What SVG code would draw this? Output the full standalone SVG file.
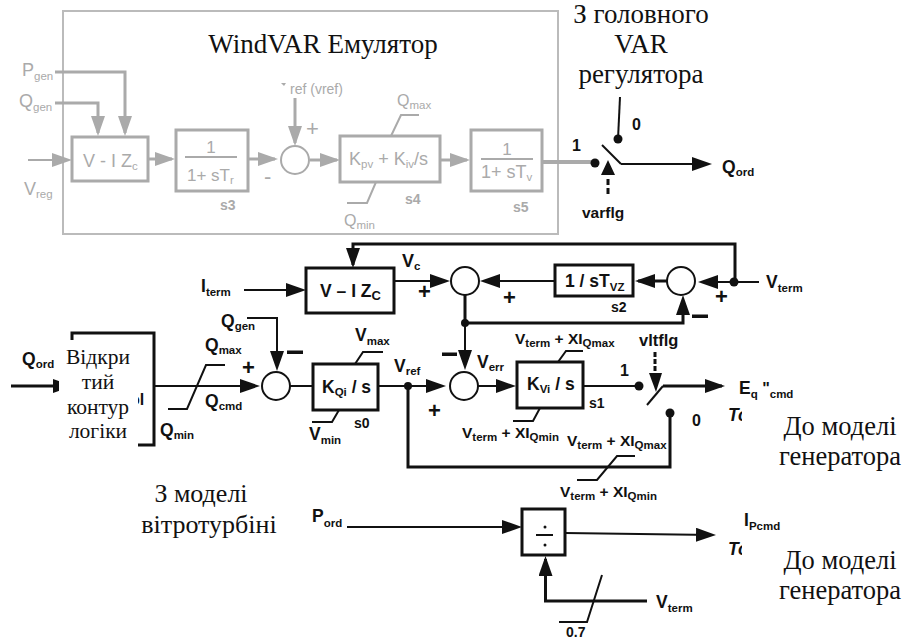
<svg xmlns="http://www.w3.org/2000/svg" width="906" height="640" viewBox="0 0 906 640">
<style>
text{font-family:"Liberation Sans",Arial,sans-serif}
.s{font-family:"Liberation Serif","Times New Roman",serif;fill:#111;text-anchor:middle}
.l{font-size:17.500px;font-weight:bold;fill:#111}
.x{font-size:15.500px;font-weight:bold;fill:#111}
.g{font-size:17px;fill:#aaa}
.n{font-size:14px;font-weight:bold;fill:#111}
.gn{font-size:14px;fill:#aaa;font-weight:bold}
.sub{font-size:11.500px}
.b{fill:#fff;stroke:#111;stroke-width:3}
.gb{fill:#fff;stroke:#aaa;stroke-width:3}
.c{fill:#fff;stroke:#111;stroke-width:2}
.gc{fill:#fff;stroke:#aaa;stroke-width:2}
.w{fill:none;stroke:#111;stroke-width:2}
.w3{fill:none;stroke:#111;stroke-width:3}
.gw{fill:none;stroke:#aaa;stroke-width:2}
.gw3{fill:none;stroke:#aaa;stroke-width:3}
.a{marker-end:url(#ah)}
.ga{marker-end:url(#gh)}
.p{font-size:22px;font-weight:bold;fill:#111}
</style>
<defs>
<marker id="ah" markerUnits="userSpaceOnUse" markerWidth="20" markerHeight="16" refX="17" refY="7" orient="auto"><path d="M0 0L20 7L0 14Z" fill="#111"/></marker>
<marker id="gh" markerUnits="userSpaceOnUse" markerWidth="20" markerHeight="16" refX="17" refY="7" orient="auto"><path d="M0 0L20 7L0 14Z" fill="#aaa"/></marker>
</defs>
<rect width="906" height="640" fill="#fff"/>

<g id="emulator-frame"><rect x="63" y="11" width="495" height="223" fill="none" stroke="#bbb" stroke-width="2"/></g>

<g id="connectors">
<path class="gw3 ga" d="M55 72H125V133"/>
<path class="gw3 ga" d="M55 103H98V133"/>
<path class="gw ga" d="M28 160H69"/>
<path class="gw3 ga" d="M148 159H172"/>
<path class="gw3 ga" d="M248 159H275"/>
<path class="gw3 ga" d="M295 98V143"/>
<path class="gw3 ga" d="M310 160H337"/>
<path class="gw3 ga" d="M440 160H467"/>
<path class="gw" d="M419 115H401L391 136"/>
<path class="gw" d="M347 203H367L376 182"/>
<path d="M542 162H595" fill="none" stroke="#aaa" stroke-width="4"/>

<path class="w" d="M620 97L618 139"/>
<path class="w" d="M602 145L621 164"/>
<path class="w a" d="M621 164H709"/>
<path class="w3" stroke-dasharray="6 3" d="M608 194V176"/>
<path d="M601 175L608 160L615 175Z" fill="#111"/>

<path class="w3 a" d="M735 282V244H353V265"/>
<path class="w a" d="M759 282H701"/>
<path class="w3 a" d="M667 281H638"/>
<path class="w a" d="M555 281H483"/>
<path class="w a" d="M394 281H447"/>
<path class="w a" d="M244 290H303"/>
<path class="w3" d="M465 295V323H683V310"/>
<path class="w a" d="M683 323V298"/>
<path class="w a" d="M465 323V367"/>
<path class="w a" d="M378 386H443"/>
<path class="w a" d="M478 386H513"/>
<path class="w" d="M582 386H639"/>
<path class="w" d="M290 386H313"/>
<path class="w a" d="M155 386H257"/>
<path class="w a" d="M247 318H277V368"/>
<path class="w3 a" d="M11 386H70"/>
<path class="w3" d="M72 340V333H154V445H138"/>
<path class="w" d="M225 365H206L187 409H168"/>
<path class="w" d="M383 352H363L355 364"/>
<path class="w" d="M312 422H332L339 410"/>
<path class="w" d="M583 351H566L558 362"/>
<path class="w" d="M513 421H533L540 408"/>
<path class="w3" d="M408 386V467H670V413"/>
<path class="w" d="M577 480H597L617 456H635"/>
<path class="w" d="M647 405L663 386"/>
<path class="w3 a" d="M663 386H722"/>
<path class="w3" stroke-dasharray="5 2" d="M655 352V372"/>
<path d="M649 373L656 392L662 373Z" fill="#111"/>
<path class="w a" d="M347 527H519"/>
<path class="w a" d="M565 533L713 535"/>
<path class="w3 a" d="M647 601H545.500V559"/>
<path class="w" d="M559 622H587L602 575"/>
<circle cx="595" cy="163" r="4.500" fill="#111"/>
<circle cx="618" cy="139" r="4.500" fill="#111"/>
<circle cx="734" cy="282" r="4.500" fill="#111"/>
<circle cx="465" cy="323" r="4" fill="#111"/>
<circle cx="408" cy="386" r="4" fill="#111"/>
<circle cx="639" cy="386" r="4.500" fill="#111"/>
<circle cx="670" cy="413" r="4.500" fill="#111"/>
</g>

<g id="vizc-gray"><rect class="gb" x="72" y="137" width="76" height="44"/><text class="g" x="83" y="167" style="font-size:18px">V - I Z<tspan class="sub" dy="3">c</tspan></text></g>
<g id="s3"><rect class="gb" x="176" y="130" width="72" height="61"/><path class="gw" d="M185 157H237"/><text class="g" x="211" y="153" text-anchor="middle">1</text><text class="g" x="187" y="181">1+ sT<tspan class="sub" dy="3">r</tspan></text><text class="gn" x="220" y="210">s3</text></g>
<g id="sum-gray"><circle class="gc" cx="295" cy="160" r="14"/></g>
<g id="s4"><rect class="gb" x="340" y="136" width="100" height="46"/><text class="g" x="349" y="165" style="font-size:18px">K<tspan class="sub" dy="3">pv</tspan><tspan dy="-3"> + K</tspan><tspan class="sub" dy="3">iv</tspan><tspan dy="-3">/s</tspan></text><text class="gn" x="405" y="204">s4</text></g>
<g id="s5"><rect class="gb" x="471" y="130" width="71" height="61"/><path class="gw" d="M481 159H533"/><text class="g" x="507" y="155" text-anchor="middle">1</text><text class="g" x="481" y="178" style="font-size:18px">1+ sT<tspan class="sub" dy="3">v</tspan></text><text class="gn" x="513" y="212">s5</text></g>

<g id="vizc"><rect class="b" x="306" y="268" width="88" height="45"/><text class="l" x="320" y="297">V – I Z<tspan dy="3" style="font-size:13px">C</tspan></text></g>
<g id="s2"><rect class="b" x="555" y="265" width="78" height="31"/><text class="l" x="565" y="287">1 / sT<tspan class="sub" dy="4">VZ</tspan></text><text class="n" x="611" y="312">s2</text></g>
<g id="sum-vc"><circle class="c" cx="465" cy="281" r="14"/></g>
<g id="sum-vterm"><circle class="c" cx="681" cy="281" r="14"/></g>
<g id="sum-q"><circle class="c" cx="276" cy="386" r="14"/></g>
<g id="s0"><rect class="b" x="313" y="364" width="65" height="46"/><text class="l" x="322" y="393">K<tspan class="sub" dy="3">Qi</tspan><tspan dy="-3"> / s</tspan></text><text class="n" x="354" y="428">s0</text></g>
<g id="sum-v"><circle class="c" cx="464" cy="386" r="14"/></g>
<g id="s1"><rect class="b" x="517" y="362" width="66" height="46"/><text class="l" x="527" y="390">K<tspan class="sub" dy="3">Vi</tspan><tspan dy="-3"> / s</tspan></text><text class="n" x="589" y="408">s1</text></g>
<g id="divider"><rect class="b" x="522" y="509" width="43" height="46"/><path class="w" d="M536 535H553"/><circle cx="545" cy="527" r="1.500" fill="#111"/><circle cx="545" cy="545" r="1.500" fill="#111"/></g>

<g id="logic">
<text class="l" x="130" y="405" style="font-size:16px">ol</text>
<rect x="59" y="345" width="79" height="100" fill="#fff"/>
<text class="s" x="98" y="364" style="font-size:21.500px">Відкри</text>
<text class="s" x="98" y="389" style="font-size:21.500px">тий</text>
<text class="s" x="98" y="414" style="font-size:21.500px">контур</text>
<text class="s" x="98" y="438" style="font-size:21.500px">логіки</text>
</g>

<g id="labels">
<text class="g" x="22" y="76" style="font-size:18px">P<tspan class="sub" dy="4">gen</tspan></text>
<text class="g" x="19" y="107" style="font-size:18px">Q<tspan class="sub" dy="4">gen</tspan></text>
<text class="g" x="24" y="195" style="font-size:18px">V<tspan class="sub" dy="3">reg</tspan></text>
<path d="M281 83H286L284 86Z" fill="#aaa"/>
<text class="g" x="290" y="94" style="font-size:14px">ref  (vref)</text>
<text class="g" x="306" y="136" style="font-size:22px">+</text>
<text class="g" x="264" y="184" style="font-size:22px">-</text>
<text class="g" x="397" y="106" style="font-size:16px">Q<tspan class="sub" dy="3">max</tspan></text>
<text class="g" x="344" y="226" style="font-size:16px">Q<tspan class="sub" dy="3">min</tspan></text>
<text class="s" x="323" y="53" style="font-size:27px">WindVAR Емулятор</text>
<text class="s" x="641" y="23" style="font-size:27px">З головного</text>
<text class="s" x="641" y="53" style="font-size:27px">VAR</text>
<text class="s" x="641" y="83" style="font-size:27px">регулятора</text>
<text class="n" x="572" y="151" style="font-size:16px">1</text>
<text class="n" x="632" y="130" style="font-size:16px">0</text>
<text class="l" x="722" y="173">Q<tspan class="sub" dy="3">ord</tspan></text>
<text class="l" x="582" y="218" style="font-size:15.500px">varflg</text>
<text class="l" x="402" y="267" style="font-size:18px">V<tspan class="sub" dy="3">c</tspan></text>
<text class="l" x="766" y="288">V<tspan class="sub" dy="4">term</tspan></text>
<text class="l" x="201" y="292">I<tspan class="sub" dy="4">term</tspan></text>
<text class="l" x="221" y="327">Q<tspan class="sub" dy="3">gen</tspan></text>
<text class="l" x="205" y="351">Q<tspan class="sub" dy="3">max</tspan></text>
<text class="l" x="205" y="407">Q<tspan class="sub" dy="3">cmd</tspan></text>
<text class="l" x="160" y="436">Q<tspan class="sub" dy="3">min</tspan></text>
<text class="l" x="22" y="365">Q<tspan class="sub" dy="3">ord</tspan></text>
<text class="l" x="355" y="341">V<tspan class="sub" dy="4">max</tspan></text>
<text class="l" x="309" y="440">V<tspan class="sub" dy="4">min</tspan></text>
<text class="l" x="394" y="372">V<tspan class="sub" dy="3">ref</tspan></text>
<text class="l" x="477" y="368">V<tspan class="sub" dy="3">err</tspan></text>
<text class="x" x="515" y="344">V<tspan class="sub" dy="3">term</tspan><tspan dy="-3"> + XI</tspan><tspan class="sub" dy="3">Qmax</tspan></text>
<text class="x" x="462" y="438">V<tspan class="sub" dy="3">term</tspan><tspan dy="-3"> + XI</tspan><tspan class="sub" dy="3">Qmin</tspan></text>
<text class="x" x="567" y="446">V<tspan class="sub" dy="3">term</tspan><tspan dy="-3"> + XI</tspan><tspan class="sub" dy="3">Qmax</tspan></text>
<text class="x" x="560" y="497">V<tspan class="sub" dy="3">term</tspan><tspan dy="-3"> + XI</tspan><tspan class="sub" dy="3">Qmin</tspan></text>
<text class="l" x="639" y="346" style="font-size:16.500px">vltflg</text>
<text class="n" x="620" y="376" style="font-size:16px">1</text>
<text class="n" x="692" y="426" style="font-size:16px">0</text>
<text class="l" x="739" y="394">E<tspan class="sub" dy="4">q</tspan><tspan dy="-4" style="font-size:16px"> "</tspan><tspan class="sub" dy="4">cmd</tspan></text>
<text class="l" x="728" y="421" font-style="italic">To</text>
<text class="l" x="728" y="555" font-style="italic">To</text>
<rect x="742" y="405" width="20" height="22" fill="#fff"/>
<rect x="742" y="540" width="20" height="22" fill="#fff"/>
<text class="l" x="312" y="522">P<tspan class="sub" dy="5">ord</tspan></text>
<text class="l" x="744" y="526">I<tspan class="sub" dy="4">Pcmd</tspan></text>
<text class="l" x="656" y="608">V<tspan class="sub" dy="4">term</tspan></text>
<text class="n" x="566" y="637" style="font-size:14px">0.7</text>
<text class="p" x="242" y="375">+</text><text class="p" x="418" y="299">+</text><text class="p" x="503" y="305">+</text><text class="p" x="715" y="304">+</text><text class="p" x="428" y="418">+</text>
<rect x="287" y="350.500" width="16" height="3.500" fill="#111"/>
<rect x="692" y="314.500" width="16" height="3.500" fill="#111"/>
<rect x="442" y="352.500" width="15" height="3.500" fill="#111"/>
<text class="s" x="201" y="502" style="font-size:26px">З моделі</text>
<text class="s" x="209" y="533" style="font-size:26px">вітротурбіні</text>
<text class="s" x="840" y="435" style="font-size:26.500px">До моделі</text>
<text class="s" x="840" y="465" style="font-size:26.500px">генератора</text>
<text class="s" x="840" y="569" style="font-size:26.500px">До моделі</text>
<text class="s" x="840" y="599" style="font-size:26.500px">генератора</text>
</g>
</svg>
